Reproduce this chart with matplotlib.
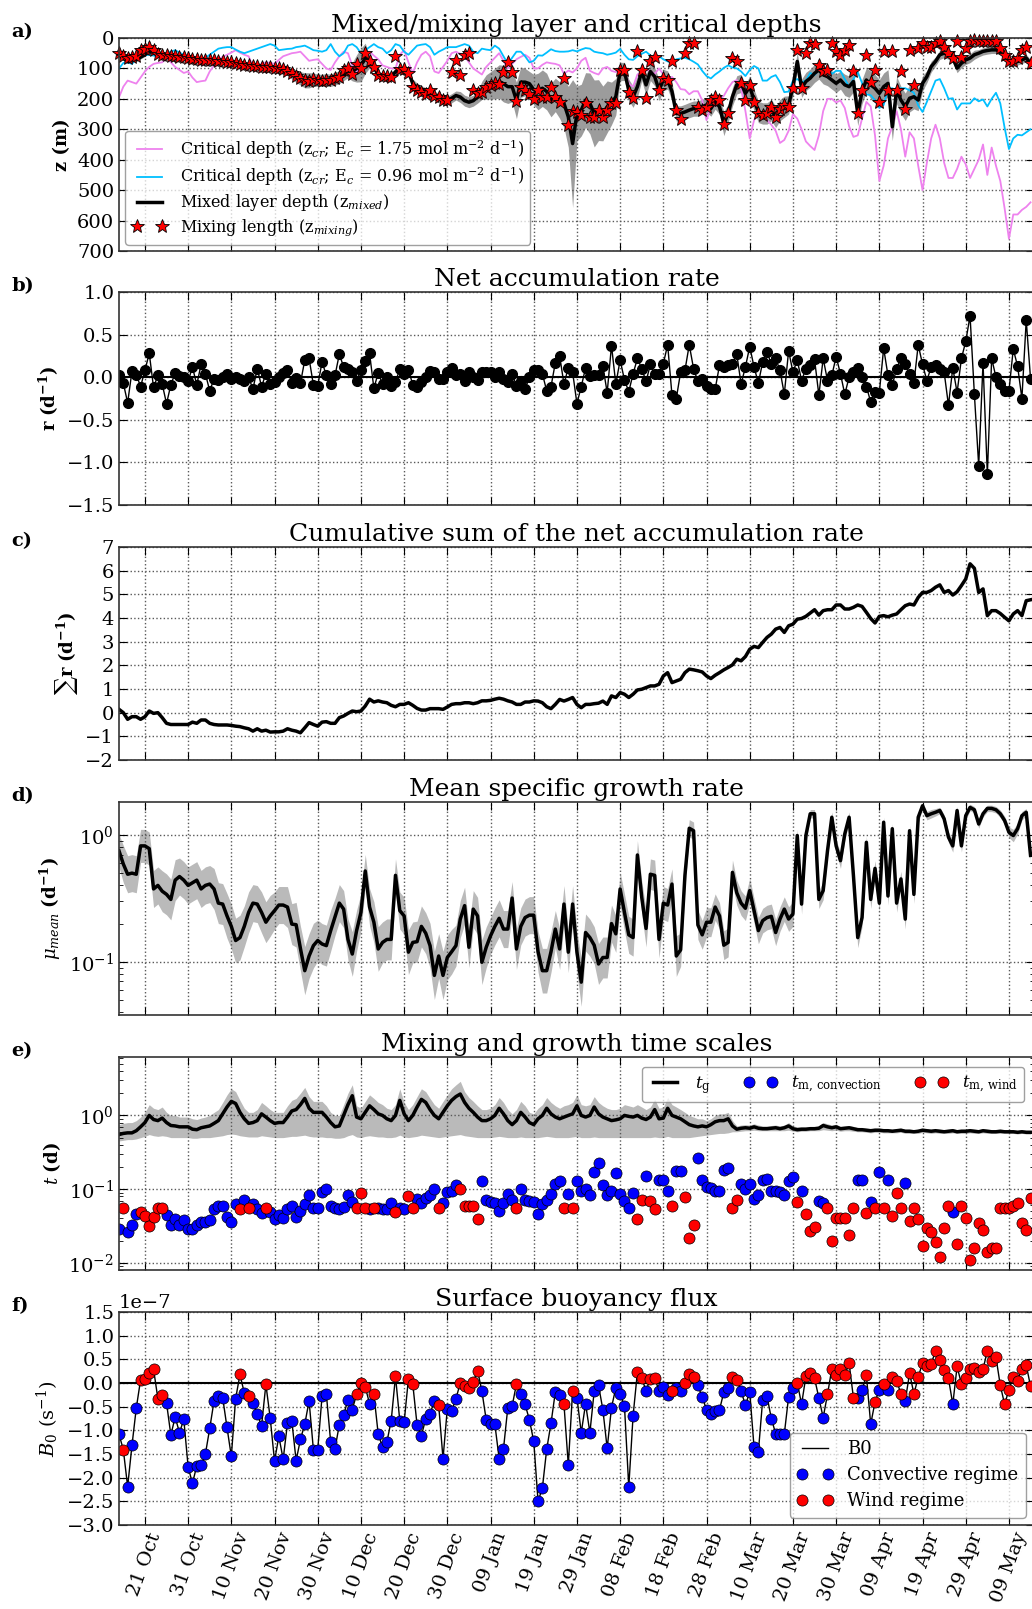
import numpy as np
import pandas as pd
import matplotlib
matplotlib.use('Agg')
import matplotlib.pyplot as plt
import matplotlib.dates as mdates
from matplotlib.ticker import NullFormatter

plt.rcParams['font.family'] = 'serif'
plt.rcParams['font.serif'] = ['DejaVu Serif']
plt.rcParams['mathtext.fontset'] = 'dejavuserif'

start = '2014-10-15'
n_days = 212

# a) mixed layer depth, its band half width, mixing length, critical depths (m)
z_mixed = [55,67,78,72,72,63,55,44,50,55, 58,58,60,60,63,63,67,70,72,74,
           74,72,72,74,74,78,81,83,85,89, 92,94,94,94,94,97,100,100,103,109,
           117,126,133,139,139,137,139,139,137,139, 133,130,122,111,111,100,89,67,78,94,
           122,126,126,128,111,106,106,111,150,163, 172,178,183,189,197,206,206,198,189,194,
           206,211,206,194,172,161,156,150,143,150, 160,160,205,145,145,150,170,176,165,176,
           204,187,204,215,259,347,248,237,204,215, 248,237,248,226,215,193,110,110,171,193,
           160,110,154,110,127,171,138,138,176,248, 248,243,237,232,232,226,220,232,209,226,
           281,248,193,154,149,182,160,204,243,248, 248,237,259,237,226,220,160,77,165,143,
           132,116,105,121,127,138,149,138,154,160, 143,248,176,138,154,165,182,160,149,292,
           171,204,226,198,193,204,149,127,94,77, 55,50,55,66,99,83,72,66,55,50,
           44,41,39,39,44,50,72,83,77,72, 66,83]
z_mixed_half = [5,5,5,5,5,6,6,6,5,5, 5,5,5,5,5,5,5,5,5,5,
                5,5,5,5,5,5,5,5,5,6, 6,6,6,6,6,7,8,10,12,15,
                18,20,22,25,25,22,20,20,20,20, 22,20,18,20,30,45,55,50,20,15,
                12,12,12,12,12,12,12,15,15,15, 15,15,15,15,15,15,15,15,15,18,
                18,18,18,20,30,40,45,50,55,60, 55,50,60,50,45,40,50,60,60,60,
                55,55,60,80,100,210,90,85,90,100, 110,100,90,85,70,60,30,30,35,35,
                35,30,35,30,30,35,35,30,30,25, 25,25,25,25,25,25,25,25,25,25,
                40,30,30,30,30,30,35,35,35,35, 35,35,35,35,35,30,30,30,30,30,
                30,30,30,30,30,30,30,30,35,35, 35,40,40,40,45,45,45,45,45,45,
                45,45,45,45,40,35,25,20,18,15, 15,15,15,15,15,15,15,15,15,12,
                12,12,12,12,12,12,12,12,12,12, 12,12]
z_mixing = [50,58,66,62,60,40,35,30,38,52, 55,57,60,60,62,63,66,70,70,72,
            73,72,72,74,74,78,80,82,85,88, 90,93,93,94,94,96,99,100,102,108,
            116,125,132,138,140,136,138,140,137,138, 132,128,105,100,118,85,100,50,75,95,
            120,125,125,127,58,102,102,115,160,172, 178,183,170,190,195,205,205,111,72,122,
            55,50,170,180,178,160,155,148,150,112, 78,111,208,160,170,185,200,171,193,193,
            162,193,209,132,287,240,243,254,215,259, 259,237,259,237,215,215,105,105,176,198,
            44,105,198,77,61,171,132,138,77,237, 265,50,17,17,226,237,226,204,193,204,
            281,248,66,77,149,204,154,209,248,254, 248,226,259,232,220,226,165,39,165,50,
            17,19,88,110,105,17,44,55,39,22, 110,248,171,55,143,105,209,44,171,44,
            171,110,232,39,154,33,17,28,28,17, 11,28,50,66,11,61,33,11,6,11,
            11,11,11,11,33,55,77,77,66,39, 28,83]
z_cr_175 = [195,160,140,145,150,130,110,95,85,82, 80,65,80,95,105,115,110,130,145,142,
            140,110,90,70,62,55,48,40,48,55, 60,95,90,85,80,82,85,72,60,55,
            50,48,45,60,75,72,70,85,100,105, 80,60,45,50,90,110,95,70,45,58,
            70,90,95,100,100,55,40,80,115,80, 55,45,60,110,115,95,75,50,45,52,
            60,80,100,110,120,95,80,65,50,75, 100,85,70,62,55,65,100,100,88,80,
            83,85,90,118,107,113,100,75,65,108, 115,120,100,95,108,112,95,108,150,160,
            120,110,105,108,118,100,120,138,128,145, 168,170,185,175,175,205,270,225,222,205,
            190,165,145,138,165,240,330,270,245,242, 270,285,305,345,335,305,250,265,300,340,
            355,368,320,240,200,200,212,205,230,290, 325,320,265,210,225,320,470,420,330,290,
            240,300,390,310,330,420,500,410,330,285, 330,410,460,460,430,390,415,460,430,400,
            350,450,360,420,470,560,660,580,580,565, 555,540]
z_cr_096 = [100,82,80,85,70,60,57,55,58,60, 55,50,45,40,48,55,58,60,65,70,
            65,55,45,35,32,30,30,38,45,50, 45,40,35,30,25,20,25,40,38,36,
            35,30,28,25,32,40,42,45,40,20, 45,60,50,25,20,30,50,40,30,20,
            30,35,50,40,20,25,45,55,40,25, 22,20,30,55,45,38,30,30,30,25,
            20,25,45,50,35,38,40,25,35,60, 85,65,45,45,60,80,75,57,58,48,
            37,43,45,45,44,40,44,38,33,35, 45,48,50,55,52,48,36,55,70,72,
            60,52,45,57,65,60,70,77,80,70, 67,65,70,78,87,108,125,133,120,110,
            98,90,97,100,110,125,105,92,100,140, 140,128,122,145,178,176,140,135,145,140,
            115,122,105,98,100,118,108,108,135,160, 135,112,148,185,188,205,230,220,168,165,
            172,165,165,172,180,222,243,210,175,140, 135,165,200,198,235,215,215,215,198,208,
            202,225,200,180,215,295,365,330,318,320, 310,300]

# b) net accumulation rate (d-1)
r_net = [0.03,-0.07,-0.30,0.07,0.03,-0.11,0.08,0.28,-0.12,0.02,
         -0.08,-0.31,-0.09,0.05,0.01,0.0,-0.05,0.12,-0.09,0.15,
         0.04,-0.16,-0.02,-0.03,0.0,0.04,-0.02,0.0,-0.02,-0.04,
         0.0,-0.14,0.10,-0.11,0.04,-0.08,-0.06,0.0,0.05,0.09,
         -0.07,-0.01,-0.07,0.20,0.22,-0.09,-0.10,0.18,0.02,-0.08,
         0.02,0.27,0.12,0.10,0.06,-0.04,0.08,0.19,0.28,-0.13,
         0.05,-0.08,0.0,-0.10,-0.06,0.10,0.04,0.09,-0.09,-0.12,
         -0.06,0.0,0.07,0.06,-0.02,-0.02,0.06,0.11,0.02,0.04,
         -0.04,0.06,0.0,-0.03,0.06,0.06,0.06,0.0,0.06,-0.02,
         -0.06,0.04,-0.10,-0.04,-0.14,0.0,0.08,0.09,0.04,-0.16,
         -0.11,0.17,0.25,-0.08,0.11,0.06,-0.31,-0.11,0.11,0.01,
         0.02,0.03,0.13,-0.18,0.37,-0.08,0.20,-0.03,-0.17,0.04,
         0.22,0.10,-0.05,0.15,0.04,0.04,0.16,0.38,-0.21,-0.25,
         0.06,0.08,0.38,0.10,-0.05,-0.02,-0.10,-0.14,-0.14,0.14,
         0.12,0.14,0.16,0.27,-0.08,0.12,0.36,0.12,-0.07,0.18,
         0.30,0.15,0.22,0.08,-0.20,0.31,0.06,0.20,-0.04,0.10,
         0.14,0.21,-0.21,0.22,-0.04,0.02,0.24,0.04,-0.20,0.0,
         0.06,0.11,0.0,-0.11,-0.29,-0.17,-0.18,0.34,0.02,-0.09,
         0.10,0.22,0.15,0.04,-0.07,0.38,0.15,-0.04,0.12,0.14,
         0.10,0.06,-0.33,0.11,-0.18,0.22,0.42,0.72,-0.20,-1.04,
         0.17,-1.14,0.22,0.0,-0.08,-0.16,-0.16,0.33,0.13,-0.25,
         0.67,-0.02]

# c) cumulative sum of r (d-1)
r_cumsum = [0.14,0.0,-0.28,-0.17,-0.17,-0.28,-0.17,0.07,-0.03,0.0,
            -0.21,-0.45,-0.5,-0.5,-0.5,-0.5,-0.5,-0.4,-0.45,-0.31,
            -0.31,-0.45,-0.5,-0.52,-0.52,-0.52,-0.54,-0.57,-0.59,-0.64,
            -0.68,-0.78,-0.68,-0.78,-0.74,-0.82,-0.81,-0.81,-0.78,-0.68,
            -0.74,-0.78,-0.85,-0.64,-0.42,-0.5,-0.57,-0.4,-0.38,-0.45,
            -0.45,-0.21,-0.14,-0.03,0.07,0.04,0.07,0.28,0.57,0.45,
            0.5,0.45,0.42,0.31,0.25,0.35,0.35,0.42,0.31,0.18,
            0.11,0.11,0.17,0.17,0.17,0.14,0.24,0.35,0.38,0.38,
            0.42,0.42,0.38,0.42,0.5,0.5,0.52,0.57,0.61,0.57,
            0.5,0.45,0.35,0.35,0.45,0.45,0.5,0.49,0.42,0.25,
            0.17,0.35,0.56,0.49,0.56,0.64,0.35,0.21,0.35,0.35,
            0.38,0.40,0.49,0.35,0.71,0.64,0.85,0.78,0.64,0.78,
            0.96,0.99,1.06,1.13,1.13,1.20,1.55,1.69,1.27,1.34,
            1.41,1.69,1.84,1.81,1.77,1.72,1.55,1.44,1.58,1.69,
            1.81,1.91,2.02,2.26,2.19,2.37,2.68,2.80,2.75,2.97,
            3.18,3.32,3.53,3.60,3.39,3.67,3.74,3.95,3.98,4.07,
            4.21,4.35,4.12,4.31,4.35,4.35,4.55,4.55,4.38,4.38,
            4.45,4.55,4.49,4.24,3.98,3.79,4.07,4.10,4.05,4.12,
            4.17,4.35,4.52,4.59,4.55,4.87,5.08,5.08,5.16,5.30,
            5.40,5.08,5.16,4.97,5.11,5.37,5.65,6.29,6.10,5.08,
            5.23,4.10,4.31,4.31,4.19,4.03,3.88,4.17,4.31,4.10,
            4.73,4.77]

# d) mean specific growth rate (d-1) and the factor giving its grey band
mu_mean = [0.75,0.59,0.49,0.50,0.49,0.82,0.82,0.78,0.375,0.40,
           0.36,0.34,0.31,0.44,0.47,0.44,0.40,0.42,0.44,0.375,
           0.40,0.41,0.375,0.29,0.285,0.23,0.19,0.147,0.155,0.19,
           0.245,0.29,0.285,0.245,0.205,0.23,0.253,0.28,0.28,0.27,
           0.198,0.196,0.127,0.085,0.111,0.134,0.147,0.138,0.134,0.176,
           0.226,0.29,0.26,0.15,0.115,0.176,0.245,0.52,0.27,0.205,
           0.126,0.142,0.15,0.15,0.48,0.253,0.23,0.119,0.142,0.144,
           0.19,0.168,0.134,0.078,0.111,0.078,0.108,0.12,0.134,0.217,
           0.277,0.13,0.26,0.23,0.099,0.13,0.16,0.19,0.22,0.181,
           0.181,0.318,0.126,0.19,0.223,0.233,0.233,0.12,0.085,0.085,
           0.12,0.181,0.126,0.285,0.119,0.285,0.119,0.069,0.17,0.155,
           0.135,0.096,0.108,0.108,0.2,0.166,0.375,0.245,0.163,0.155,
           0.695,0.322,0.183,0.49,0.48,0.15,0.29,0.28,0.41,0.111,
           0.124,0.48,1.13,1.08,0.195,0.163,0.205,0.205,0.27,0.23,
           0.135,0.142,0.507,0.35,0.29,0.264,0.364,0.253,0.176,0.211,
           0.223,0.228,0.17,0.217,0.26,0.217,0.238,0.99,0.285,0.99,
           1.47,1.47,0.31,0.364,0.75,1.38,0.82,0.627,1.02,1.38,
           0.48,0.155,0.223,0.875,0.31,0.545,0.29,1.26,0.33,1.12,
           0.29,0.45,0.217,1.08,0.34,1.38,1.7,1.42,1.47,1.51,
           1.56,1.34,0.96,0.82,1.56,0.82,1.42,1.65,1.58,1.22,
           1.47,1.62,1.62,1.58,1.47,1.3,1.05,0.99,1.12,1.42,
           1.51,0.69]
mu_spread = [1.35,1.4,1.4,1.4,1.4,1.35,1.35,1.35,1.4,1.4,
             1.45,1.45,1.45,1.45,1.4,1.4,1.4,1.4,1.4,1.4,
             1.4,1.4,1.45,1.45,1.45,1.5,1.5,1.5,1.5,1.45,
             1.45,1.4,1.4,1.45,1.45,1.45,1.4,1.4,1.4,1.45,
             1.45,1.5,1.5,1.55,1.5,1.5,1.45,1.45,1.45,1.45,
             1.4,1.4,1.4,1.45,1.5,1.45,1.4,1.35,1.4,1.45,
             1.5,1.45,1.45,1.45,1.35,1.4,1.4,1.5,1.45,1.45,
             1.45,1.45,1.5,1.55,1.5,1.55,1.5,1.5,1.45,1.4,
             1.4,1.45,1.4,1.4,1.5,1.45,1.4,1.4,1.4,1.4,
             1.4,1.35,1.45,1.4,1.4,1.4,1.4,1.45,1.5,1.5,
             1.45,1.4,1.45,1.4,1.45,1.4,1.45,1.55,1.4,1.4,
             1.4,1.45,1.45,1.45,1.4,1.4,1.35,1.4,1.4,1.4,
             1.3,1.35,1.4,1.32,1.32,1.4,1.35,1.35,1.32,1.45,
             1.35,1.25,1.17,1.17,1.3,1.3,1.3,1.3,1.27,1.27,
             1.3,1.3,1.25,1.25,1.25,1.25,1.25,1.25,1.27,1.25,
             1.25,1.25,1.27,1.25,1.25,1.25,1.25,1.12,1.2,1.12,
             1.08,1.08,1.18,1.18,1.12,1.1,1.12,1.15,1.12,1.1,
             1.15,1.2,1.18,1.12,1.18,1.15,1.18,1.1,1.18,1.1,
             1.18,1.15,1.2,1.1,1.18,1.1,1.06,1.08,1.08,1.07,
             1.06,1.08,1.1,1.12,1.07,1.12,1.08,1.06,1.06,1.08,
             1.06,1.06,1.06,1.06,1.07,1.08,1.1,1.12,1.1,1.08,
             1.07,1.12]

# e) growth time scale with its band, and mixing time scale (d)
t_g = [0.55,0.57,0.58,0.58,0.62,0.7,0.8,1.0,0.88,0.85,
       0.92,0.8,0.73,0.72,0.7,0.7,0.7,0.65,0.64,0.68,
       0.7,0.72,0.78,0.85,1.05,1.3,1.55,1.45,1.1,0.9,
       0.78,0.8,0.85,1.05,0.95,0.85,0.78,0.8,0.8,0.95,
       1.15,1.2,1.4,1.7,1.25,1.1,1.1,1.1,0.95,0.8,
       0.7,0.72,1.0,1.4,1.85,0.95,0.9,1.1,1.35,1.2,
       1.05,1.0,0.9,0.85,1.0,1.6,1.05,0.85,1.0,1.3,
       1.65,1.5,1.2,1.0,0.9,1.1,1.35,1.6,1.8,1.95,
       1.5,1.25,1.1,0.95,0.85,0.85,0.9,1.0,1.25,1.05,
       0.85,0.75,0.85,1.1,0.95,0.8,0.75,0.9,1.0,1.25,
       1.05,0.95,0.9,0.95,1.0,1.05,1.35,1.0,0.95,1.0,
       1.3,1.05,0.95,0.9,0.85,0.87,0.9,1.0,0.97,0.95,
       1.0,0.92,0.88,0.95,1.2,0.9,0.92,1.25,1.0,0.95,
       0.9,0.82,0.75,0.72,0.7,0.72,0.7,0.75,0.82,0.85,
       0.85,0.9,0.72,0.65,0.67,0.68,0.67,0.7,0.67,0.66,
       0.66,0.67,0.68,0.66,0.68,0.72,0.66,0.64,0.65,0.65,
       0.66,0.66,0.67,0.73,0.7,0.68,0.7,0.66,0.67,0.68,
       0.66,0.64,0.64,0.63,0.62,0.63,0.63,0.62,0.62,0.61,
       0.62,0.63,0.61,0.61,0.6,0.61,0.63,0.62,0.61,0.62,
       0.61,0.6,0.61,0.62,0.6,0.61,0.61,0.62,0.61,0.6,
       0.62,0.61,0.6,0.6,0.61,0.6,0.6,0.6,0.59,0.6,
       0.59,0.59]
t_g_low = [0.45,0.46,0.47,0.47,0.48,0.5,0.52,0.55,0.53,0.52,
           0.53,0.52,0.5,0.5,0.5,0.5,0.5,0.49,0.49,0.5,
           0.5,0.5,0.51,0.52,0.53,0.55,0.56,0.55,0.53,0.52,
           0.51,0.51,0.51,0.53,0.52,0.51,0.5,0.5,0.5,0.51,
           0.52,0.52,0.53,0.54,0.52,0.51,0.51,0.51,0.5,0.5,
           0.49,0.49,0.5,0.53,0.55,0.51,0.5,0.52,0.53,0.52,
           0.51,0.51,0.5,0.5,0.51,0.54,0.51,0.5,0.51,0.52,
           0.54,0.53,0.52,0.51,0.5,0.51,0.52,0.53,0.54,0.55,
           0.53,0.52,0.51,0.5,0.5,0.5,0.5,0.51,0.52,0.51,
           0.5,0.5,0.5,0.51,0.5,0.5,0.5,0.5,0.51,0.52,
           0.51,0.5,0.5,0.5,0.5,0.51,0.52,0.5,0.5,0.5,
           0.51,0.5,0.5,0.5,0.5,0.5,0.5,0.5,0.5,0.5,
           0.5,0.5,0.5,0.5,0.51,0.5,0.5,0.52,0.5,0.5,
           0.5,0.5,0.5,0.51,0.52,0.53,0.54,0.55,0.56,0.57,
           0.57,0.58,0.6,0.6,0.61,0.62,0.62,0.63,0.62,0.62,
           0.62,0.62,0.62,0.62,0.62,0.63,0.61,0.6,0.61,0.61,
           0.62,0.62,0.62,0.64,0.63,0.62,0.63,0.61,0.62,0.62,
           0.61,0.6,0.6,0.59,0.58,0.59,0.59,0.58,0.58,0.58,
           0.58,0.59,0.57,0.57,0.57,0.57,0.59,0.58,0.57,0.58,
           0.57,0.57,0.57,0.58,0.57,0.57,0.57,0.58,0.57,0.57,
           0.58,0.57,0.57,0.57,0.57,0.57,0.57,0.57,0.56,0.57,
           0.56,0.56]
t_g_high = [0.75,0.78,0.8,0.8,0.85,0.95,1.1,1.4,1.25,1.2,
            1.3,1.1,1.0,1.0,0.95,0.95,0.95,0.9,0.88,0.92,
            0.95,1.0,1.1,1.2,1.5,1.9,2.3,2.1,1.6,1.25,
            1.1,1.1,1.2,1.5,1.35,1.2,1.1,1.1,1.1,1.35,
            1.6,1.7,2.0,2.4,1.8,1.55,1.55,1.55,1.35,1.1,
            1.0,1.0,1.4,2.0,2.6,1.35,1.25,1.55,1.9,1.7,
            1.5,1.4,1.25,1.2,1.4,2.3,1.5,1.2,1.4,1.8,
            2.3,2.1,1.7,1.4,1.25,1.55,1.9,2.3,2.6,2.9,
            2.1,1.75,1.55,1.35,1.2,1.2,1.25,1.4,1.75,1.5,
            1.2,1.05,1.2,1.55,1.35,1.1,1.05,1.25,1.4,1.75,
            1.5,1.35,1.25,1.35,1.4,1.5,1.9,1.4,1.35,1.4,
            1.8,1.5,1.35,1.25,1.2,1.2,1.25,1.4,1.35,1.3,
            1.4,1.3,1.2,1.3,1.65,1.25,1.3,1.75,1.4,1.3,
            1.2,1.1,1.0,0.95,0.9,0.9,0.85,0.9,1.0,1.05,
            1.05,1.1,0.85,0.72,0.74,0.75,0.74,0.77,0.74,0.72,
            0.72,0.73,0.74,0.72,0.74,0.8,0.72,0.7,0.7,0.7,
            0.71,0.71,0.72,0.8,0.77,0.74,0.76,0.71,0.72,0.73,
            0.71,0.69,0.68,0.67,0.66,0.67,0.67,0.66,0.66,0.65,
            0.66,0.67,0.65,0.65,0.64,0.65,0.67,0.66,0.65,0.66,
            0.65,0.64,0.65,0.66,0.64,0.65,0.65,0.66,0.65,0.64,
            0.66,0.65,0.64,0.64,0.65,0.64,0.64,0.64,0.63,0.64,
            0.63,0.63]
t_m = [0.029,0.056,0.026,0.033,0.046,0.049,0.043,0.032,0.042,0.056,
       0.056,0.045,0.033,0.039,0.033,0.038,0.029,0.029,0.033,0.036,
       0.036,0.038,0.053,0.059,0.059,0.042,0.036,0.063,0.053,0.071,
       0.056,0.062,0.053,0.048,0.056,0.049,0.039,0.045,0.040,0.053,
       0.059,0.042,0.050,0.063,0.084,0.055,0.055,0.091,0.100,0.059,
       0.055,0.053,0.057,0.082,0.066,0.056,0.089,0.056,0.053,0.056,
       0.055,0.053,0.053,0.065,0.049,0.056,0.053,0.080,0.056,0.074,
       0.064,0.076,0.082,0.100,0.056,0.065,0.091,0.094,0.115,0.100,
       0.059,0.059,0.059,0.039,0.128,0.071,0.067,0.065,0.050,0.065,
       0.087,0.072,0.056,0.100,0.071,0.069,0.067,0.046,0.062,0.072,
       0.087,0.119,0.128,0.056,0.086,0.056,0.130,0.094,0.100,0.082,
       0.171,0.226,0.115,0.082,0.095,0.166,0.087,0.068,0.056,0.089,
       0.039,0.071,0.149,0.068,0.053,0.132,0.132,0.094,0.059,0.174,
       0.174,0.078,0.022,0.033,0.264,0.132,0.107,0.104,0.094,0.095,
       0.184,0.194,0.056,0.071,0.117,0.100,0.119,0.074,0.083,0.132,
       0.139,0.094,0.094,0.092,0.083,0.128,0.145,0.066,0.094,0.046,
       0.027,0.031,0.068,0.065,0.056,0.020,0.041,0.041,0.040,0.024,
       0.056,0.132,0.132,0.047,0.067,0.056,0.169,0.056,0.132,0.043,
       0.089,0.056,0.121,0.037,0.056,0.039,0.017,0.030,0.026,0.019,
       0.012,0.030,0.059,0.049,0.018,0.059,0.041,0.011,0.016,0.035,
       0.028,0.014,0.016,0.016,0.056,0.056,0.056,0.059,0.064,0.035,
       0.028,0.076]

# f) surface buoyancy flux (x 1e-7 s-1); regime: c = convective, w = wind
b0 = [-1.08,-1.41,-2.19,-1.32,-0.53,0.07,0.08,0.21,0.29,-0.33,
      -0.26,-0.42,-1.10,-0.72,-1.05,-0.77,-1.77,-2.12,-1.75,-1.74,
      -1.50,-0.96,-0.38,-0.28,-0.31,-0.94,-1.55,-0.33,0.18,-0.21,
      -0.28,-0.42,-0.66,-0.90,-0.03,-0.74,-1.65,-1.13,-1.61,-0.85,
      -0.80,-1.64,-1.19,-0.87,-0.38,-1.41,-1.41,-0.28,-0.24,-1.25,
      -1.39,-0.88,-0.68,-0.35,-0.56,-0.24,0.00,-0.08,-0.44,-0.24,
      -1.08,-1.35,-1.25,-0.80,0.14,-0.80,-0.83,0.09,-0.02,-0.89,
      -1.11,-0.76,-0.65,-0.38,-0.47,-1.60,-0.54,-0.59,-0.33,0.00,
      -0.07,-0.10,0.03,0.26,-0.17,-0.78,-0.87,-0.87,-1.60,-1.39,
      -0.52,-0.49,-0.02,-0.24,-0.45,-0.78,-1.23,-2.50,-2.22,-1.40,
      -0.85,-0.19,-0.26,-0.45,-1.73,-0.17,-0.31,-1.05,-0.44,-1.05,
      -0.17,-0.05,-0.56,-1.38,-0.52,-0.10,-0.24,-0.48,-2.20,-0.69,
      0.23,0.10,-0.16,0.09,0.10,-0.16,-0.09,-0.26,-0.17,-0.10,
      -0.17,0.00,0.19,0.12,-0.05,-0.30,-0.56,-0.66,-0.59,-0.57,
      -0.19,-0.10,0.12,0.07,-0.17,-0.47,-0.19,-1.36,-1.45,-0.35,
      -0.28,-0.75,-1.07,-1.08,-1.08,-0.29,-0.10,0.01,-0.45,0.14,
      0.21,0.10,-0.31,-0.73,-0.24,0.30,0.17,0.30,0.16,0.42,
      -0.31,-0.31,-0.15,0.16,-0.87,-0.40,-0.14,-0.02,-0.15,0.12,
      0.05,-0.23,-0.38,0.21,-0.23,0.12,0.43,0.35,0.40,0.68,
      0.49,0.27,0.10,-0.45,0.35,-0.02,0.10,0.30,0.31,0.24,
      0.29,0.68,0.47,0.54,-0.05,-0.45,-0.14,0.12,0.05,0.30,
      0.38,-0.07]
regime = ("cwcccwwwww" "wccccccccc" "ccccccccwc" "wcccwccccc" "cccccccccc"
          "cccccwwwcw" "ccccwccwwc" "ccccwccccw" "wwwwcccccc" "ccwccccccc"
          "cccwcwcccc" "cccccccccc" "wwcwwcccwc" "cwwwcccccc" "ccwwcccccc"
          "cccccccwcw" "wwccwwwwww" "wccwcwcwcw" "wwcwwwwwww" "wwwcwwwwww"
          "wwwwwwwwww" "ww")

dates = pd.date_range(start, periods=n_days, freq='D')
x_end = dates[0] + pd.Timedelta(days=211.8)
tick_dates = pd.date_range('2014-10-21', '2015-05-09', freq='10D')

z_mixed = np.array(z_mixed, float)
z_mixed_half = np.array(z_mixed_half, float)
mu_mean = np.array(mu_mean)
mu_spread = np.array(mu_spread)
b0 = np.array(b0) * 1e-7
conv = np.array([c == 'c' for c in regime])
wind = ~conv
t_m = np.array(t_m)

W, H = 1032, 1609
fig = plt.figure(figsize=(W / 100, H / 100), dpi=100)
tops = [38, 292, 547, 802, 1057, 1312]
ax_h = 213
left, right = 119, 1034
axes = []
for t in tops:
    ax = fig.add_axes([left / W, 1 - (t + ax_h) / H, (right - left) / W, ax_h / H])
    ax.set_xlim(dates[0], x_end)
    ax.set_xticks(tick_dates)
    ax.grid(True, color='0.35', linestyle=':', linewidth=1)
    ax.tick_params(direction='in', top=True, right=True, length=6, labelsize=14)
    ax.tick_params(which='minor', direction='in', length=3, right=True)
    for s in ax.spines.values():
        s.set_linewidth(1.2)
        s.set_color('0.2')
    axes.append(ax)

titles = ['Mixed/mixing layer and critical depths', 'Net accumulation rate',
          'Cumulative sum of the net accumulation rate', 'Mean specific growth rate',
          'Mixing and growth time scales', 'Surface buoyancy flux']
for ax, t, lab, top in zip(axes, titles, 'abcdef', tops):
    ax.set_title(t, fontsize=18, pad=4)
    fig.text(11 / W, 1 - (top - 6) / H, lab + ')', fontsize=14, fontweight='bold', va='center')
    if lab != 'f':
        ax.tick_params(labelbottom=False)

# a)
ax = axes[0]
ax.fill_between(dates, z_mixed - z_mixed_half, z_mixed + z_mixed_half, color='0.45', alpha=0.7, lw=0)
ax.plot(dates, z_cr_175, color='violet', lw=1.3,
        label=r'Critical depth (z$_{cr}$; E$_c$ = 1.75 mol m$^{-2}$ d$^{-1}$)')
ax.plot(dates, z_cr_096, color='deepskyblue', lw=1.3,
        label=r'Critical depth (z$_{cr}$; E$_c$ = 0.96 mol m$^{-2}$ d$^{-1}$)')
ax.plot(dates, z_mixed, color='k', lw=2.5, label=r'Mixed layer depth (z$_{mixed}$)')
ax.plot(dates, z_mixing, ls='none', marker='*', ms=10, mfc='red', mec='k', mew=0.6,
        label=r'Mixing length (z$_{mixing}$)', clip_on=False)
ax.set_ylim(700, 0)
ax.set_yticks(range(0, 701, 100))
ax.set_ylabel('z (m)', fontweight='bold', fontsize=13)
ax.legend(loc='lower left', fontsize=11.5, numpoints=2, framealpha=0.75, edgecolor='0.5',
          handlelength=2.2, borderaxespad=0.4, labelspacing=0.25)

# b)
ax = axes[1]
ax.axhline(0, color='k', lw=1.5)
ax.plot(dates, r_net, color='k', lw=1, marker='o', ms=7, mfc='k', mec='k')
ax.set_ylim(-1.5, 1.0)
ax.set_yticks(np.arange(-1.5, 1.01, 0.5))
ax.set_ylabel(r'$\mathbf{r\ (d^{-1})}$', fontsize=13)

# c)
ax = axes[2]
ax.plot(dates, r_cumsum, color='k', lw=2.5)
ax.set_ylim(-2, 7)
ax.set_yticks(range(-2, 8))
ax.set_ylabel(r'$\sum\mathbf{r\ (d^{-1})}$', fontsize=13)

# d)
ax = axes[3]
ax.fill_between(dates, mu_mean / mu_spread, mu_mean * mu_spread, color='0.55', alpha=0.6, lw=0)
ax.plot(dates, mu_mean, color='k', lw=2.5)
ax.set_yscale('log')
ax.set_ylim(0.038, 1.82)
ax.yaxis.set_minor_formatter(NullFormatter())
ax.set_ylabel(r'$\mu_{mean}$ $\mathbf{(d^{-1})}$', fontsize=13)

# e)
ax = axes[4]
ax.fill_between(dates, t_g_low, t_g_high, color='0.55', alpha=0.6, lw=0)
ax.plot(dates, t_g, color='k', lw=2.5, label=r'$t_{\rm g}$')
ax.plot(dates[conv], t_m[conv], ls='none', marker='o', ms=8, mfc='blue', mec='k', mew=0.5,
        label=r'$t_{\rm m,\, convection}$')
ax.plot(dates[wind], t_m[wind], ls='none', marker='o', ms=8, mfc='red', mec='k', mew=0.5,
        label=r'$t_{\rm m,\, wind}$')
ax.set_yscale('log')
ax.set_ylim(0.008, 6.2)
ax.yaxis.set_minor_formatter(NullFormatter())
ax.set_ylabel(r'$t$ $\mathbf{(d)}$', fontsize=13)
ax.legend(loc='upper right', ncol=3, fontsize=12, numpoints=2, framealpha=0.75,
          edgecolor='0.5', columnspacing=2.0, borderaxespad=0.6)

# f)
ax = axes[5]
ax.axhline(0, color='k', lw=1.5)
ax.plot(dates, b0, color='k', lw=1, label='B0')
ax.plot(dates[conv], b0[conv], ls='none', marker='o', ms=8, mfc='blue', mec='k', mew=0.5,
        label='Convective regime')
ax.plot(dates[wind], b0[wind], ls='none', marker='o', ms=8, mfc='red', mec='k', mew=0.5,
        label='Wind regime')
ax.set_ylim(-3e-7, 1.5e-7)
ax.set_yticks(np.arange(-3e-7, 1.6e-7, 0.5e-7))
ax.yaxis.get_offset_text().set_fontsize(14)
ax.set_ylabel(r'$B_0$ (s$^{-1}$)', fontsize=14)
ax.legend(loc='lower right', bbox_to_anchor=(0.991, 0.035), fontsize=13, numpoints=2,
          framealpha=0.75, edgecolor='0.5', borderaxespad=0, labelspacing=0.45)
ax.xaxis.set_major_formatter(mdates.DateFormatter('%d %b'))
for lbl in ax.get_xticklabels():
    lbl.set_rotation(70)
    lbl.set_ha('center')

fig.savefig('out.png', dpi=100)
